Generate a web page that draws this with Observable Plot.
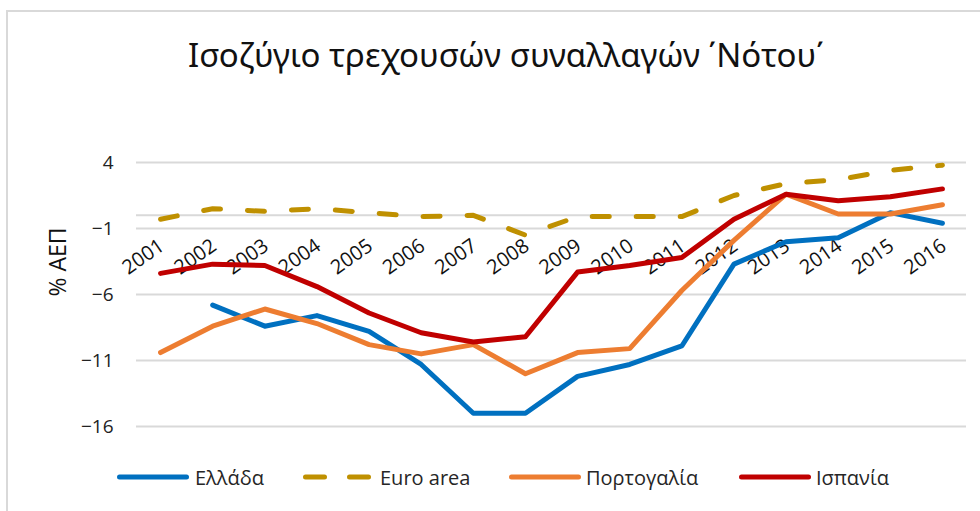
<!DOCTYPE html>
<html><head><meta charset="utf-8">
<script src="https://cdn.jsdelivr.net/npm/d3@7"></script>
<script src="https://cdn.jsdelivr.net/npm/@observablehq/plot@0.6"></script>
<style>
body{margin:0;background:#fff;width:980px;height:511px;overflow:hidden;position:relative;font-family:"Open Sans",sans-serif;}
#frame{position:absolute;left:6px;top:10px;width:990px;height:520px;border:2px solid #d9d9d9;box-sizing:border-box;}
#title{position:absolute;left:0;width:1012px;top:32px;text-align:center;font-family:"Noto Sans",sans-serif;font-size:33px;color:#111;white-space:nowrap;}
#chart{position:absolute;left:0;top:100px;}
#legend{position:absolute;top:464px;left:0;width:980px;height:26px;font-size:20px;color:#262626;}
.item{position:absolute;top:0;height:26px;display:flex;align-items:center;white-space:nowrap;}
.item svg{display:block;}
</style></head><body>
<div id="frame"></div>
<div id="title"></div>
<div id="chart"></div>
<div id="legend"></div>
<script>
const title = "Ισοζύγιο τρεχουσών συναλλαγών ΄Νότου΄";
const yLabel = "% ΑΕΠ";
const years = [2001,2002,2003,2004,2005,2006,2007,2008,2009,2010,2011,2012,2013,2014,2015,2016];
const greece   = [null,-6.8,-8.4,-7.6,-8.8,-11.3,-15.0,-15.0,-12.2,-11.3,-9.9,-3.7,-2.0,-1.7,0.2,-0.6];
const euroArea = [-0.3,0.5,0.3,0.5,0.2,-0.1,0.0,-1.5,-0.1,-0.1,-0.1,1.5,2.4,2.7,3.4,3.8];
const portugal = [-10.4,-8.4,-7.1,-8.2,-9.8,-10.5,-9.8,-12.0,-10.4,-10.1,-5.7,-1.9,1.6,0.1,0.1,0.8];
const spain    = [-4.4,-3.7,-3.8,-5.4,-7.4,-8.9,-9.6,-9.2,-4.3,-3.8,-3.2,-0.3,1.6,1.1,1.4,2.0];
const seriesNames = ["Ελλάδα","Euro area","Πορτογαλία","Ισπανία"];
const seriesValues = [greece, euroArea, portugal, spain];
const colors = ["#0070C0","#BF9000","#ED7D31","#C00000"];
const dashes = [null,"17,27",null,null];
const yTicks = [4,-1,-6,-11,-16];

document.getElementById("title").textContent = title;

const rows = [];
seriesNames.forEach((s,k)=>{
  seriesValues[k].forEach((v,i)=>{ if (v != null) rows.push({series:s, year:years[i], value:v}); });
});

const lineMarks = seriesNames.map((s,k)=>Plot.line(rows.filter(r=>r.series===s), {
  x:"year", y:"value", stroke:colors[k], strokeWidth:5,
  strokeLinecap:"round", strokeLinejoin:"round",
  strokeDasharray: dashes[k] || undefined
}));

const chart = Plot.plot({
  width:980, height:350,
  marginLeft:134, marginRight:12, marginTop:62, marginBottom:24,
  x:{type:"point", domain:years, padding:0.5, round:false, axis:null},
  y:{domain:[-16,4], axis:null},
  style:{fontFamily:"Open Sans", fontSize:"18px", color:"#222", background:"transparent", overflow:"visible"},
  marks:[
    Plot.gridY(yTicks, {stroke:"#d9d9d9", strokeOpacity:1, strokeWidth:2, insetLeft:2, insetRight:2}),
    Plot.ruleY([0], {stroke:"#d9d9d9", strokeWidth:2, insetLeft:2, insetRight:2}),
    Plot.axisY(yTicks, {tickSize:0, tickPadding:21, fontSize:19, label:null, fill:"#222"}),
    Plot.text([yLabel], {frameAnchor:"left", rotate:-90, dx:-76, dy:2, fontSize:23, fill:"#111"}),
    Plot.text(years, {x:d=>d, y:()=>0, text:d=>String(d), rotate:-35, textAnchor:"end", lineAnchor:"top", dy:22, dx:-3, fontSize:20, fill:"#111"}),
    ...lineMarks
  ]
});
document.getElementById("chart").appendChild(chart);

const legendPos = [[117,72,195],[303,69,380],[509,72,586],[739,72,816]];
const legend = document.getElementById("legend");
seriesNames.forEach((s,k)=>{
  const [sx, sw, tx] = legendPos[k];
  const sw_el = document.createElement("div");
  sw_el.className = "item"; sw_el.style.left = sx + "px";
  const svg = d3.create("svg").attr("width", sw).attr("height", 26);
  const ln = svg.append("line").attr("x1",2.5).attr("x2",sw-2.5).attr("y1",13).attr("y2",13)
      .attr("stroke",colors[k]).attr("stroke-width",5).attr("stroke-linecap","round");
  if (dashes[k]) ln.attr("stroke-dasharray","19,25");
  sw_el.appendChild(svg.node());
  legend.appendChild(sw_el);
  const t = document.createElement("div");
  t.className = "item"; t.style.left = tx + "px"; t.textContent = s;
  legend.appendChild(t);
});
</script>
</body></html>
